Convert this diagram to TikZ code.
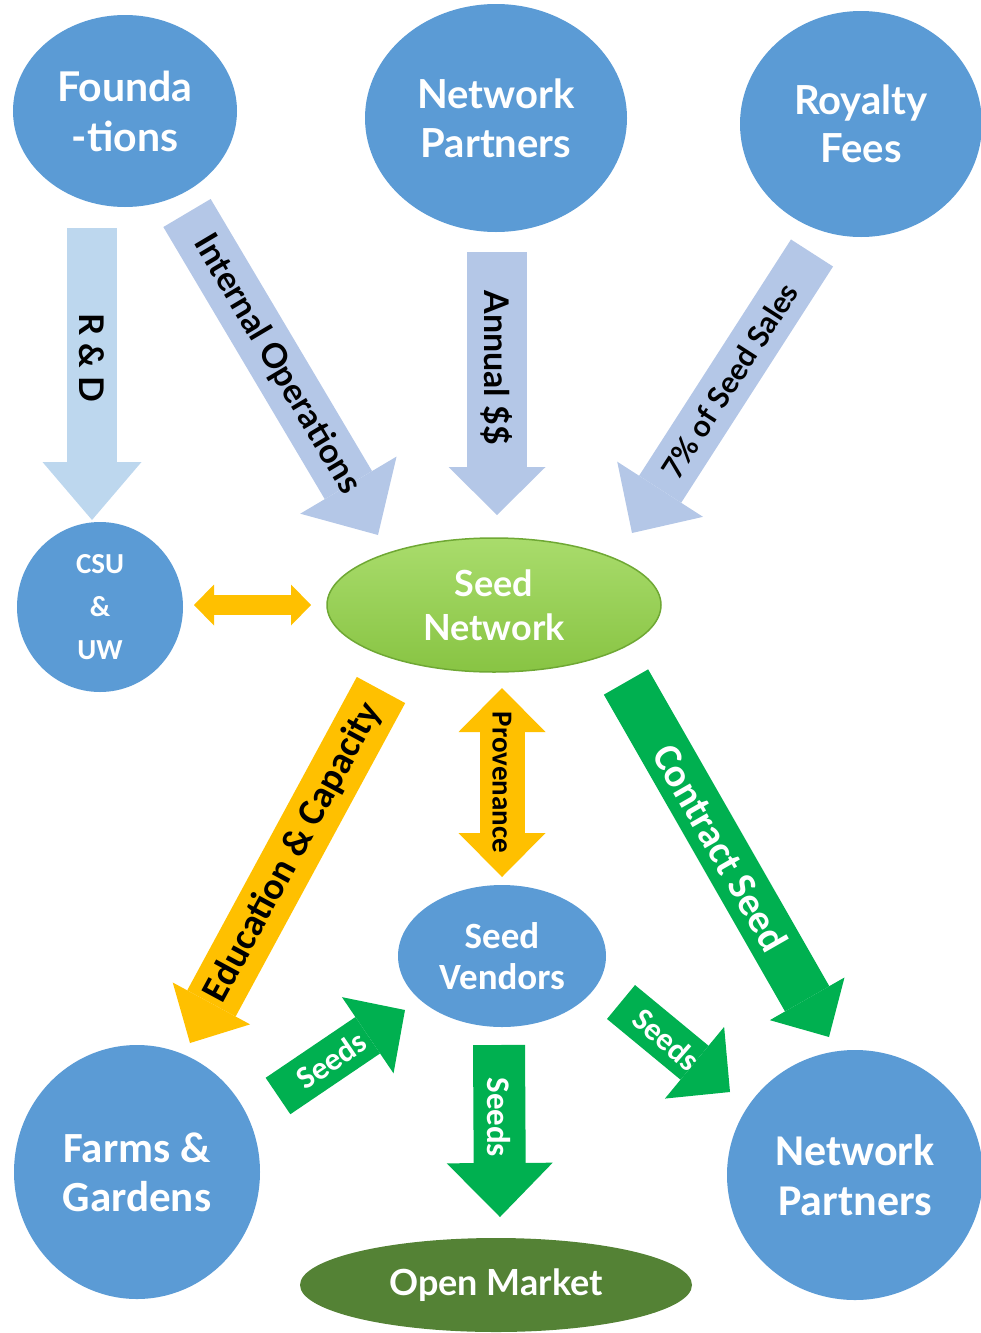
\documentclass[tikz,border=0pt]{standalone}
\usepackage{fontspec}
\setmainfont{Lato}
\newfontfamily\calfont{Carlito}
\usetikzlibrary{shapes.geometric,arrows.meta}
\definecolor{bubble}{HTML}{5B9BD5}
\definecolor{paleblue}{HTML}{BDD7EE}
\definecolor{greyblue}{HTML}{B4C7E7}
\definecolor{amber}{HTML}{FFC000}
\definecolor{leaf}{HTML}{00B050}
\definecolor{olive}{HTML}{548235}
\definecolor{limetop}{HTML}{A9DC6C}
\definecolor{limebot}{HTML}{88C443}
\definecolor{limerim}{HTML}{6FA834}
\tikzset{
  bubble/.style={ellipse, fill=bubble, text=white, align=center, inner sep=0pt},
  fat/.style n args={4}{draw=#1, line width=#2pt,
    -{Triangle[length=#4pt, width=#3pt, line width=0pt]}},
  fatboth/.style n args={4}{draw=#1, line width=#2pt,
    {Triangle[length=#4pt, width=#3pt, line width=0pt]}-{Triangle[length=#4pt, width=#3pt, line width=0pt]}},
  lbl/.style={text=black, inner sep=0pt, font=\bfseries\fontsize{34}{40}\selectfont},
  callbl/.style={inner sep=0pt, font=\calfont\bfseries\fontsize{#1}{#1}\selectfont},
}
\begin{document}
\begin{tikzpicture}[x=1pt,y=-1pt]
\useasboundingbox (0,0) rectangle (981,1333);
% sources
\node[bubble, minimum width=224pt, minimum height=192pt,
  font=\bfseries\fontsize{41}{50}\selectfont] (found) at (125,111) {Founda\\-tions};
\node[bubble, minimum width=262pt, minimum height=228pt,
  font=\bfseries\fontsize{40}{49}\selectfont] (netp) at (496,118) {Network\\Partners};
\node[bubble, minimum width=242pt, minimum height=226pt,
  font=\bfseries\fontsize{40}{48}\selectfont] (roy) at (861,124) {Royalty\\Fees};
% middle row
\node[bubble, minimum width=166pt, minimum height=170pt,
  font=\calfont\bfseries\fontsize{29}{43}\selectfont] (csu) at (100,607) {CSU\\\&\\UW};
\node[ellipse, top color=limetop, bottom color=limebot, draw=limerim, line width=1.5pt,
  minimum width=334pt, minimum height=134pt, text=white, align=center, inner sep=0pt,
  font=\bfseries\fontsize{36}{44}\selectfont] (seednet) at (494,605) {Seed\\Network};
% lower part
\node[bubble, minimum width=208pt, minimum height=142pt,
  font=\calfont\bfseries\fontsize{37}{41}\selectfont] (vend) at (502,956) {Seed\\Vendors};
\node[bubble, minimum width=246pt, minimum height=254pt,
  font=\calfont\bfseries\fontsize{43}{49}\selectfont] (farms) at (137,1172) {Farms \&\\Gardens};
\node[bubble, minimum width=256pt, minimum height=250pt,
  font=\calfont\bfseries\fontsize{44}{50}\selectfont] (netp2) at (855,1175) {Network\\Partners};
\node[ellipse, fill=olive, minimum width=392pt, minimum height=94pt, text=white,
  inner sep=0pt, font=\bfseries\fontsize{36}{40}\selectfont] (market) at (496,1285) {Open Market};

% arrow ends
\coordinate (rdtop) at (92,228);     \coordinate (rdtip) at (92,520);
\coordinate (iotop) at (187,213);    \coordinate (iotip) at (378,535);
\coordinate (antop) at (497,252);    \coordinate (antip) at (497,515);
\coordinate (sstop) at (812,253);    \coordinate (sstip) at (632,533);
\coordinate (cuL) at (194,605);      \coordinate (cuR) at (311,605);
\coordinate (edtop) at (381,690);    \coordinate (edtip) at (190,1043);
\coordinate (pvtop) at (502,688);    \coordinate (pvbot) at (502,877);
\coordinate (cstop) at (626,682);    \coordinate (cstip) at (829,1037);
\coordinate (slend) at (278,1096);   \coordinate (sltip) at (405,1010);
\coordinate (smtop) at (499,1045);   \coordinate (smtip) at (500,1217);
\coordinate (srend) at (621,1002);   \coordinate (srtip) at (730,1092);

% money flows
\draw[fat={paleblue}{50}{99}{58}] (rdtop) -- node[lbl, pos=.445, rotate=-90] {R \& D} (rdtip);
\draw[fat={greyblue}{55}{112}{58}] (iotop) -- node[lbl, pos=.47, rotate=-59.3] {Internal Operations} (iotip);
\draw[fat={greyblue}{60}{97}{48}] (antop) -- node[lbl, pos=.44, rotate=-90] {Annual \$\$} (antip);
\draw[fat={greyblue}{50}{102}{52}] (sstop) -- node[lbl, pos=.457, rotate=57.3,
  font=\bfseries\fontsize{30}{36}\selectfont] {7\% of Seed Sales} (sstip);
\draw[fatboth={amber}{20}{41}{20}] (cuL) -- (cuR);

% seed flows
\draw[fat={amber}{55}{88}{45}] (edtop) -- node[callbl=38, pos=.46, rotate=61.6] {Education \& Capacity} (edtip);
\draw[fatboth={amber}{45}{87}{44}] (pvtop) -- node[callbl=29, pos=.5, rotate=-90] {Provenance} (pvbot);
\draw[fat={leaf}{51}{86}{44}] (cstop) -- node[callbl=40, text=white, pos=.467, rotate=-60.2] {Contract Seed} (cstip);
\draw[fat={leaf}{44}{92}{45}] (slend) -- node[callbl=32, text=white, pos=.42, rotate=34.1] {Seeds} (sltip);
\draw[fat={leaf}{52}{106}{54}] (smtop) -- node[callbl=33, text=white, pos=.42, rotate=-90] {Seeds} (smtip);
\draw[fat={leaf}{44}{93}{46}] (srend) -- node[callbl=32, text=white, pos=.416, rotate=-41.5] {Seeds} (srtip);
\end{tikzpicture}
\end{document}
